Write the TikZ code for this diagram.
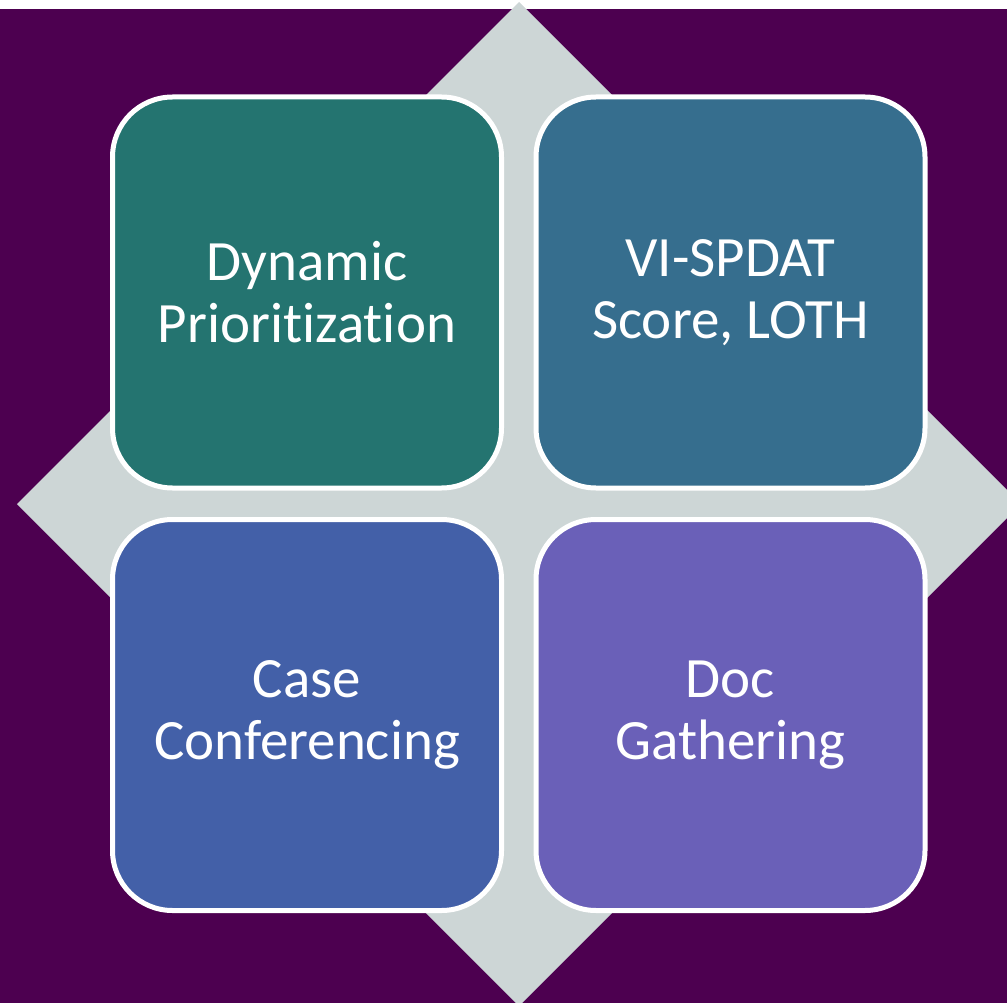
\documentclass[tikz,border=0pt]{standalone}
\usepackage{fontspec}
\setmainfont[Ligatures={NoCommon,NoRare}]{Carlito}
\definecolor{bgpurple}{RGB}{77,0,80}
\definecolor{diamondgray}{RGB}{205,214,214}
\definecolor{cteal}{RGB}{36,116,112}
\definecolor{csteel}{RGB}{54,110,142}
\definecolor{cblue}{RGB}{67,96,168}
\definecolor{cviolet}{RGB}{106,96,184}
\begin{document}
\begin{tikzpicture}[x=1pt,y=-1pt,
  quad/.style={draw=white,line width=5pt,rounded corners=60pt,minimum width=389pt,minimum height=391pt,
    text=white,align=center,font=\fontsize{57}{62}\selectfont,inner sep=0pt}]
\useasboundingbox (0,0) rectangle (1007,1003);
\fill[white] (0,0) rectangle (1007,1003);
\fill[bgpurple] (0,9) rectangle (1007,1003);
\fill[diamondgray] (519,2) -- (1021,504) -- (519,1006) -- (17,504) -- cycle;
\node[quad,fill=cteal] (dp) at (307,292.5) {Dynamic\\Prioritization};
\node[quad,fill=csteel] (vi) at (730.5,292.5) {VI-SPDAT\\Score, LOTH};
\node[quad,fill=cblue] (cc) at (307,715) {Case\\Conferencing};
\node[quad,fill=cviolet] (dg) at (730.5,715) {Doc\\Gathering};
\end{tikzpicture}
\end{document}
